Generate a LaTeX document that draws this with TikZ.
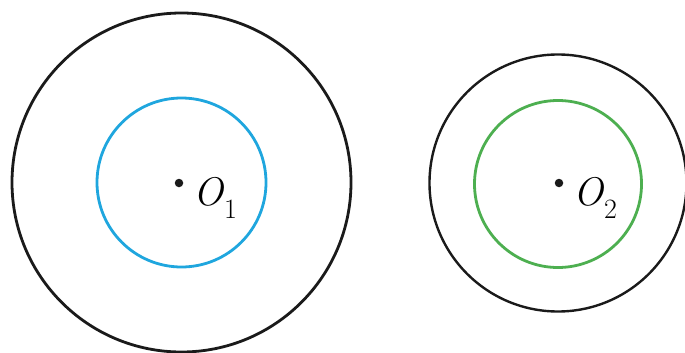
\documentclass[tikz,border=0pt]{standalone}
\usepackage{fontspec}
\usepackage{xcolor}
\usepackage{tikz}
\usetikzlibrary{positioning,calc}
\definecolor{rim}{HTML}{1A1A1A}
\definecolor{bl}{HTML}{1FA6DE}
\definecolor{gr}{HTML}{4DAF50}
\newcommand{\Ctr}[1]{{\itshape O}\kern1pt\raisebox{-0.33em}{\fontsize{28}{29}\selectfont #1}}
\tikzset{
  outer/.style={draw=rim, line width=2.8pt},
  inner/.style={line width=2.8pt},
  ctr/.style={circle, fill=rim, inner sep=0pt, minimum size=8.5pt},
  lbl/.style={anchor=base west, inner sep=0pt, font=\fontsize{40}{42}\selectfont}
}

\begin{document}
\begin{tikzpicture}[x=1pt,y=-1pt]
  \useasboundingbox (0,0) rectangle (685,353);
  \coordinate (c1) at (181.5,182.5);
  \coordinate (c2) at (558,183);
  % left pair
  \draw[outer] (c1) circle[radius=169.5pt];
  \draw[inner, bl] (c1) circle[radius=84.5pt];
  \node[ctr] (o1) at (179,183) {};
  \node[lbl] (l1) at ($(o1)+(14,22)$) {\Ctr{1}};
  % right pair
  \draw[outer, line width=2.4pt] (c2) circle[radius=128.5pt];
  \draw[inner, gr] ($(c2)+(0,1)$) circle[radius=83.5pt];
  \node[ctr] (o2) at (559,183) {};
  \node[lbl] (l2) at ($(o2)+(14,22)$) {\Ctr{2}};
\end{tikzpicture}
\end{document}
